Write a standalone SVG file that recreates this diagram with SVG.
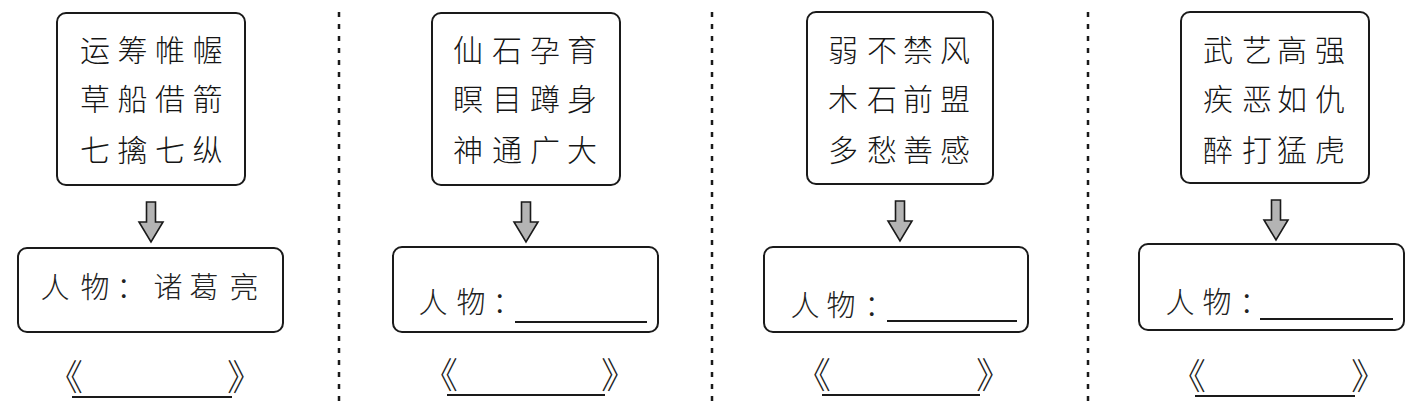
<svg xmlns="http://www.w3.org/2000/svg" xmlns:xlink="http://www.w3.org/1999/xlink" width="1428" height="407" viewBox="0 0 1428 407">
<style>
.box{fill:#fff;stroke:#1a1a1a;stroke-width:2}
.t{font-family:"Noto Sans CJK SC","Noto Sans CJK JP",sans-serif;font-size:30px;fill:#151515;text-anchor:middle;font-weight:300}
.lb{font-family:"Noto Sans CJK SC","Noto Sans CJK JP",sans-serif;font-size:29px;fill:#222;text-anchor:middle;font-weight:300}
.bk{font-family:"Noto Sans CJK SC","Noto Sans CJK JP",sans-serif;font-size:36px;fill:#222;font-weight:300}
.ul{stroke:#1a1a1a;stroke-width:1.8}
.div{stroke:#1a1a1a;stroke-width:2.5;stroke-dasharray:5 7}
.arr{fill:#b4b4b4;stroke:#1a1a1a;stroke-width:1.6;stroke-linejoin:miter}
</style>
<defs>
<path id="arrow" d="M-4.5,0 H4.5 V20 H12 L0,40 L-12,20 H-4.5 Z"/>
</defs>
<rect width="1428" height="407" fill="#fff"/>
<g id="dividers">
<line class="div" x1="339" y1="12" x2="339" y2="404"/>
<line class="div" x1="712" y1="12" x2="712" y2="404"/>
<line class="div" x1="1088" y1="12" x2="1088" y2="404"/>
</g>
<g id="connectors">
<use xlink:href="#arrow" class="arr" transform="translate(151,202)"/>
<use xlink:href="#arrow" class="arr" transform="translate(526,202)"/>
<use xlink:href="#arrow" class="arr" transform="translate(900,201)"/>
<use xlink:href="#arrow" class="arr" transform="translate(1276,200)"/>
</g>
<g id="idioms1">
<rect class="box" x="57" y="13" width="188" height="172" rx="9"/>
<text class="t" x="95 132.5 170 207.5" y="61">运筹帷幄</text>
<text class="t" x="95 132.5 170 207.5" y="110">草船借箭</text>
<text class="t" x="95 132.5 170 207.5" y="161">七擒七纵</text>
</g>
<g id="person1">
<rect class="box" x="18" y="248" width="265" height="84" rx="9"/>
<text class="lb" x="55 95 131 168 204 244" y="298">人物：诸葛亮</text>
</g>
<g id="book1">
<text class="bk" x="47" y="391">《</text>
<line class="ul" x1="72" y1="397" x2="232" y2="397"/>
<text class="bk" x="227" y="391">》</text>
</g>
<g id="idioms2">
<rect class="box" x="432" y="13" width="188" height="172" rx="9"/>
<text class="t" x="468 507 545 582" y="61">仙石孕育</text>
<text class="t" x="468 507 545 582" y="110">瞑目蹲身</text>
<text class="t" x="468 507 545 582" y="161">神通广大</text>
</g>
<g id="person2">
<rect class="box" x="393" y="247" width="265" height="85" rx="9"/>
<text class="lb" x="433 471 507" y="313">人物：</text>
<line class="ul" x1="515" y1="322" x2="647" y2="322"/>
</g>
<g id="book2">
<text class="bk" x="422" y="389">《</text>
<line class="ul" x1="447" y1="395" x2="605" y2="395"/>
<text class="bk" x="601" y="389">》</text>
</g>
<g id="idioms3">
<rect class="box" x="807" y="12" width="186" height="172" rx="9"/>
<text class="t" x="843 882 918 955" y="61">弱不禁风</text>
<text class="t" x="843 882 918 955" y="110">木石前盟</text>
<text class="t" x="843 882 918 955" y="161">多愁善感</text>
</g>
<g id="person3">
<rect class="box" x="764" y="247" width="264" height="85" rx="9"/>
<text class="lb" x="805 841 879" y="316">人物：</text>
<line class="ul" x1="887" y1="321" x2="1017" y2="321"/>
</g>
<g id="book3">
<text class="bk" x="795" y="389">《</text>
<line class="ul" x1="822" y1="395" x2="980" y2="395"/>
<text class="bk" x="976" y="389">》</text>
</g>
<g id="idioms4">
<rect class="box" x="1181" y="12" width="188" height="171" rx="9"/>
<text class="t" x="1218 1257 1292 1330" y="61">武艺高强</text>
<text class="t" x="1218 1257 1292 1330" y="110">疾恶如仇</text>
<text class="t" x="1218 1257 1292 1330" y="161">醉打猛虎</text>
</g>
<g id="person4">
<rect class="box" x="1139" y="244" width="265" height="86" rx="9"/>
<text class="lb" x="1180 1217 1254" y="313">人物：</text>
<line class="ul" x1="1260" y1="319" x2="1393" y2="319"/>
</g>
<g id="book4">
<text class="bk" x="1170" y="390">《</text>
<line class="ul" x1="1195" y1="396" x2="1355" y2="396"/>
<text class="bk" x="1351" y="390">》</text>
</g>
</svg>
